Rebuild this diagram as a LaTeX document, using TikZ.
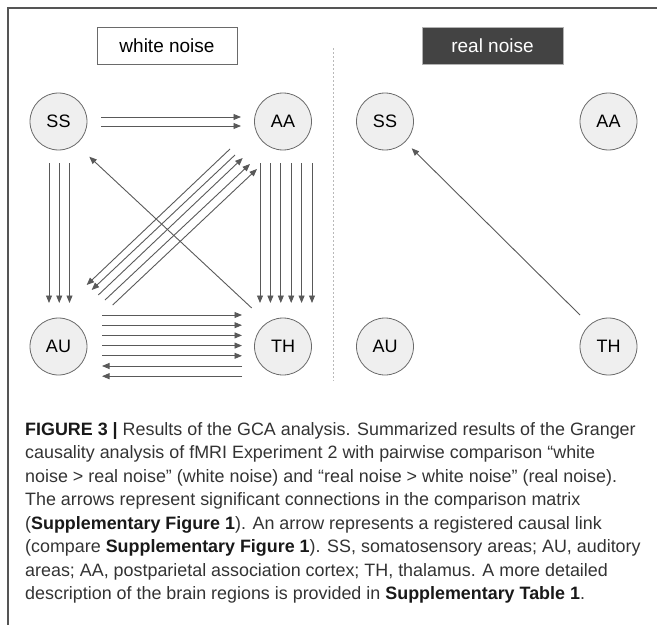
\documentclass[tikz,border=0pt]{standalone}
\usepackage{fontspec}
\setmainfont{Liberation Sans}
\usetikzlibrary{arrows.meta,calc}
\definecolor{framec}{HTML}{555555}
\definecolor{arrc}{HTML}{595959}
\definecolor{circfill}{HTML}{EFEFEF}
\definecolor{circline}{HTML}{6A6A6A}
\definecolor{darkbox}{HTML}{434343}
\definecolor{captc}{HTML}{333333}
\tikzset{
  region/.style={circle,draw=circline,fill=circfill,line width=0.8pt,minimum size=57pt,inner sep=0pt,font=\fontsize{18}{20}\selectfont},
  arr/.style={draw=arrc,line width=0.9pt,-{Triangle[length=7.5pt,width=6pt]}},
  whitebox/.style={draw=circline,fill=white,line width=0.8pt,minimum width=140pt,minimum height=37pt,inner sep=0pt,font=\fontsize{19}{21}\selectfont},
  darkboxstyle/.style={draw=gray!60,fill=darkbox,text=white,line width=0.8pt,minimum width=141pt,minimum height=37pt,inner sep=0pt,font=\fontsize{19}{21}\selectfont},
  captline/.style={anchor=base west,inner sep=0pt,text=captc,font=\fontsize{17.9}{20}\selectfont},
}
\begin{document}
\begin{tikzpicture}[x=1pt,y=-1pt]
\useasboundingbox (0,0) rectangle (657,629);
% frame
\draw[framec,line width=1.5pt] (657,8) -- (8,8) -- (8,625);
% divider
\draw[gray!55,line width=1pt,dash pattern=on 1.5pt off 2.5pt] (333,48) -- (333,381);
% labels
\node[whitebox] (wn) at (167,45.5) {white noise};
\node[darkboxstyle] (rn) at (492.5,45.5) {real noise};
% left panel nodes
\node[region] (SS) at (58.5,121.5) {SS};
\node[region] (AA) at (283,121.5) {AA};
\node[region] (AU) at (58.5,346.5) {AU};
\node[region] (TH) at (283,346.5) {TH};
% right panel nodes
\node[region] (SSr) at (385,121.5) {SS};
\node[region] (AAr) at (608.5,121.5) {AA};
\node[region] (AUr) at (385,346.5) {AU};
\node[region] (THr) at (608.5,346.5) {TH};
% SS -> AA
\foreach \dy in {-4.5,4.5}
  \draw[arr] ($(SS)+(42.5,\dy)$) -- ($(AA)+(-42,\dy)$);
% SS -> AU
\foreach \dx in {-9.5,0.75,11}
  \draw[arr] ($(SS)+(\dx,41.5)$) -- ($(AU)+(\dx,-43.5)$);
% AA -> TH
\foreach \dx in {-23,-12.6,-2.2,8.2,18.6,29}
  \draw[arr] ($(AA)+(\dx,41.5)$) -- ($(TH)+(\dx,-43.5)$);
% AU -> TH
\foreach \dy in {-31.5,-21.3,-11.1,-0.9,9.3}
  \draw[arr] ($(AU)+(43.5,\dy)$) -- ($(TH)+(-41,\dy)$);
% TH -> AU
\foreach \dy in {19.5,29.7}
  \draw[arr] ($(TH)+(-41,\dy)$) -- ($(AU)+(43.5,\dy)$);
% TH -> SS
\draw[arr] ($(TH)+(-31.3,-38.5)$) -- ($(SS)+(30.8,35.2)$);
% AA -> AU
\draw[arr] ($(AA)+(-53,27.5)$) -- ($(AU)+(28.2,-61.5)$);
\draw[arr] ($(AA)+(-48,33.5)$) -- ($(AU)+(33.2,-56.5)$);
% AU -> AA
\draw[arr] ($(AU)+(39.8,-51.5)$) -- ($(AA)+(-40.3,36.5)$);
\draw[arr] ($(AU)+(46.5,-46.5)$) -- ($(AA)+(-33,42.5)$);
\draw[arr] ($(AU)+(54.2,-41.5)$) -- ($(AA)+(-26,47.5)$);
% right panel TH -> SS
\draw[arr] ($(THr)+(-28.5,-31.5)$) -- ($(SSr)+(26.7,26.8)$);
% caption
\node[captline] (c1) at (25,435) {{\bfseries\color{black!90}FIGURE 3 |} Results of the GCA analysis. Summarized results of the Granger};
\node[captline] (c2) at (25,458.5) {causality analysis of fMRI Experiment 2 with pairwise comparison “white};
\node[captline] (c3) at (25,482) {noise > real noise” (white noise) and “real noise > white noise” (real noise).};
\node[captline] (c4) at (25,505.5) {The arrows represent significant connections in the comparison matrix};
\node[captline] (c5) at (25,529) {({\bfseries\color{black!90}Supplementary Figure 1}). An arrow represents a registered causal link};
\node[captline] (c6) at (25,552.5) {(compare {\bfseries\color{black!90}Supplementary Figure 1}). SS, somatosensory areas; AU, auditory};
\node[captline] (c7) at (25,576) {areas; AA, postparietal association cortex; TH, thalamus. A more detailed};
\node[captline] (c8) at (25,599.5) {description of the brain regions is provided in {\bfseries\color{black!90}Supplementary Table 1}.};
\end{tikzpicture}
\end{document}
